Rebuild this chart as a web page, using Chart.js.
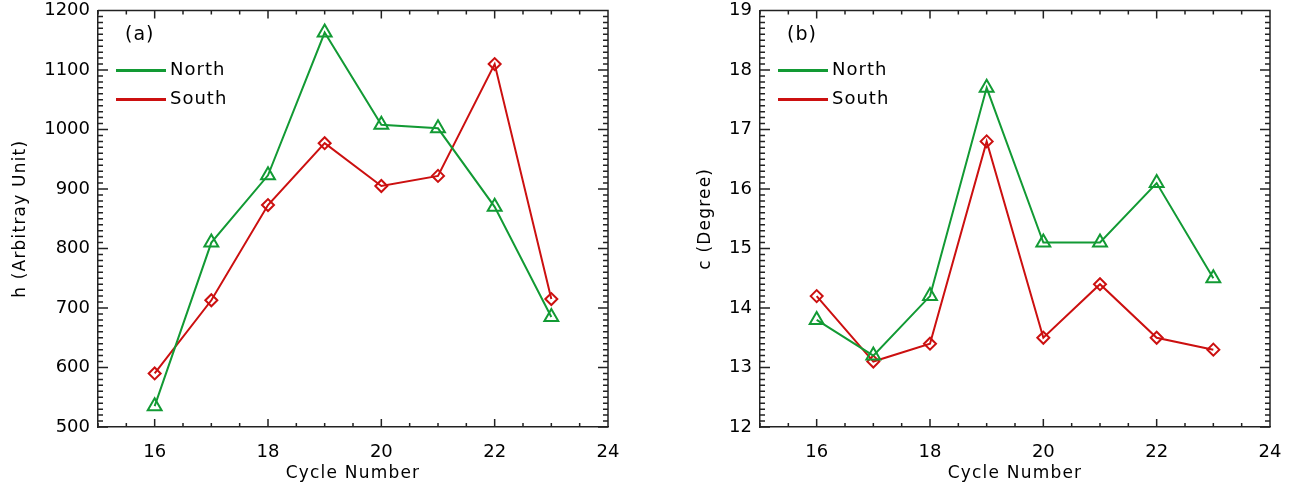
<!DOCTYPE html>
<html>
<head>
<meta charset="utf-8">
<script src="https://cdn.jsdelivr.net/npm/chart.js@4.4.0/dist/chart.umd.min.js"></script>
<style>
  body { margin: 0; background: #fff; }
  .panel { position: absolute; top: 0; width: 646px; height: 488px; }
</style>
</head>
<body>
<div class="panel" style="left:0"><canvas id="chartA" width="646" height="488"></canvas></div>
<div class="panel" style="left:646px"><canvas id="chartB" width="646" height="488"></canvas></div>
<script>
// values
const cycles = [16, 17, 18, 19, 20, 21, 22, 23];
const hNorth = [535, 810, 923, 1163, 1008, 1002, 870, 685];
const hSouth = [590, 713, 873, 977, 905, 922, 1110, 715];
const cNorth = [13.8, 13.2, 14.2, 17.7, 15.1, 15.1, 16.1, 14.5];
const cSouth = [14.2, 13.1, 13.4, 16.8, 13.5, 14.4, 13.5, 13.3];

const xTicks = [16, 18, 20, 22, 24];
const hTicks = [500, 600, 700, 800, 900, 1000, 1100, 1200];
const cTicks = [12, 13, 14, 15, 16, 17, 18, 19];

const GREEN = '#129a34';
const RED = '#cc1010';
const AXIS = '#222';

Chart.defaults.font.family = '"DejaVu Sans", sans-serif';
Chart.defaults.color = '#000';

// IDL style frame: inward ticks on all four sides
const frameTicks = {
  id: 'frameTicks',
  beforeDraw(chart) {
    chart.ctx.letterSpacing = '1.2px';   // axis titles
  },
  beforeDatasetsDraw(chart, args, o) {
    const { ctx, chartArea: a, scales: { x, y } } = chart;
    ctx.letterSpacing = '0px';
    ctx.save();
    ctx.strokeStyle = AXIS;
    ctx.lineWidth = 1.5;
    ctx.beginPath();
    ctx.moveTo(a.left, a.top);
    ctx.lineTo(a.right, a.top);
    ctx.lineTo(a.right, a.bottom);

    const isMajor = (v, m) => Math.abs(v / m - Math.round(v / m)) < 1e-6;

    let n = Math.round((x.max - x.min) / o.xMinor);
    for (let i = 0; i <= n; i++) {
      const v = x.min + i * o.xMinor;
      const px = x.getPixelForValue(v);
      const len = isMajor(v, o.xMajor) ? o.xLen : o.xLen / 2;
      ctx.moveTo(px, a.bottom); ctx.lineTo(px, a.bottom - len);
      ctx.moveTo(px, a.top); ctx.lineTo(px, a.top + len);
    }
    n = Math.round((y.max - y.min) / o.yMinor);
    for (let i = 0; i <= n; i++) {
      const v = y.min + i * o.yMinor;
      const py = y.getPixelForValue(v);
      const len = isMajor(v, o.yMajor) ? o.yLen : o.yLen / 2;
      ctx.moveTo(a.left, py); ctx.lineTo(a.left + len, py);
      ctx.moveTo(a.right, py); ctx.lineTo(a.right - len, py);
    }
    ctx.stroke();
    ctx.restore();
  }
};

const panelLegend = {
  id: 'panelLegend',
  afterDraw(chart, args, o) {
    const { ctx, chartArea: a } = chart;
    ctx.save();
    ctx.letterSpacing = '1px';
    ctx.fillStyle = '#000';
    ctx.textBaseline = 'middle';
    ctx.font = '19px "DejaVu Sans"';
    ctx.fillText(o.tag, a.left + 27, a.top + 25);
    ctx.font = '18px "DejaVu Sans"';
    chart.data.datasets.forEach((ds, i) => {
      const yy = a.top + 60 + i * 29;
      ctx.strokeStyle = ds.borderColor;
      ctx.lineWidth = 3;
      ctx.beginPath();
      ctx.moveTo(a.left + 18, yy);
      ctx.lineTo(a.left + 68, yy);
      ctx.stroke();
      ctx.fillText(ds.label, a.left + 72, yy);
    });
    ctx.restore();
  }
};

function series(label, vals, color, style, r) {
  return {
    label: label,
    data: vals.map((v, i) => ({ x: cycles[i], y: v })),
    borderColor: color,
    borderWidth: 2,
    pointStyle: style,
    pointRadius: r,
    pointBorderWidth: 2,
    pointBackgroundColor: 'rgba(0,0,0,0)',
    pointBorderColor: color,
    tension: 0
  };
}

function makeChart(id, north, south, yTicks, yTitle, tag, yMinor, yAxisW, padRight, titlePad) {
  return new Chart(document.getElementById(id), {
    type: 'line',
    data: {
      datasets: [
        series('North', north, GREEN, 'triangle', 8),
        series('South', south, RED, 'rectRot', 6)
      ]
    },
    plugins: [frameTicks, panelLegend],
    options: {
      responsive: false,
      animation: false,
      devicePixelRatio: 1,
      layout: { padding: { top: 10.5, right: padRight, bottom: 0, left: 0 } },
      plugins: {
        legend: { display: false },
        tooltip: { enabled: false },
        frameTicks: { xMinor: 0.5, xMajor: 2, xLen: 8, yMinor: yMinor, yMajor: yTicks[1] - yTicks[0], yLen: 10 },
        panelLegend: { tag: tag }
      },
      scales: {
        x: {
          type: 'linear',
          min: 15, max: 24,
          afterBuildTicks: s => { s.ticks = xTicks.map(v => ({ value: v })); },
          afterFit: s => { s.height = 61; s.paddingLeft = 0; s.paddingRight = 0; },
          ticks: { font: { size: 18 }, padding: 15, maxRotation: 0, autoSkip: false, z: 1, callback: v => String(v) },
          grid: { display: false, drawTicks: false },
          border: { display: true, color: AXIS, width: 1.5 },
          title: { display: true, text: 'Cycle Number', font: { size: 17 }, padding: { top: 0, bottom: 4 } }
        },
        y: {
          min: yTicks[0], max: yTicks[yTicks.length - 1],
          afterBuildTicks: s => { s.ticks = yTicks.map(v => ({ value: v })); },
          afterFit: s => { s.width = yAxisW; s.paddingTop = 0; s.paddingBottom = 0; },
          ticks: { font: { size: 18 }, padding: 8, z: 1, callback: v => String(v) },
          grid: { display: false, drawTicks: false },
          border: { display: true, color: AXIS, width: 1.5 },
          title: { display: true, text: yTitle, font: { size: 17 }, padding: { top: titlePad, bottom: 0 } }
        }
      }
    }
  });
}

makeChart('chartA', hNorth, hSouth, hTicks, 'h (Arbitray Unit)', '(a)', 10, 98, 38, 10);
makeChart('chartB', cNorth, cSouth, cTicks, 'c (Degree)', '(b)', 0.1, 114, 22, 49);
</script>
</body>
</html>
